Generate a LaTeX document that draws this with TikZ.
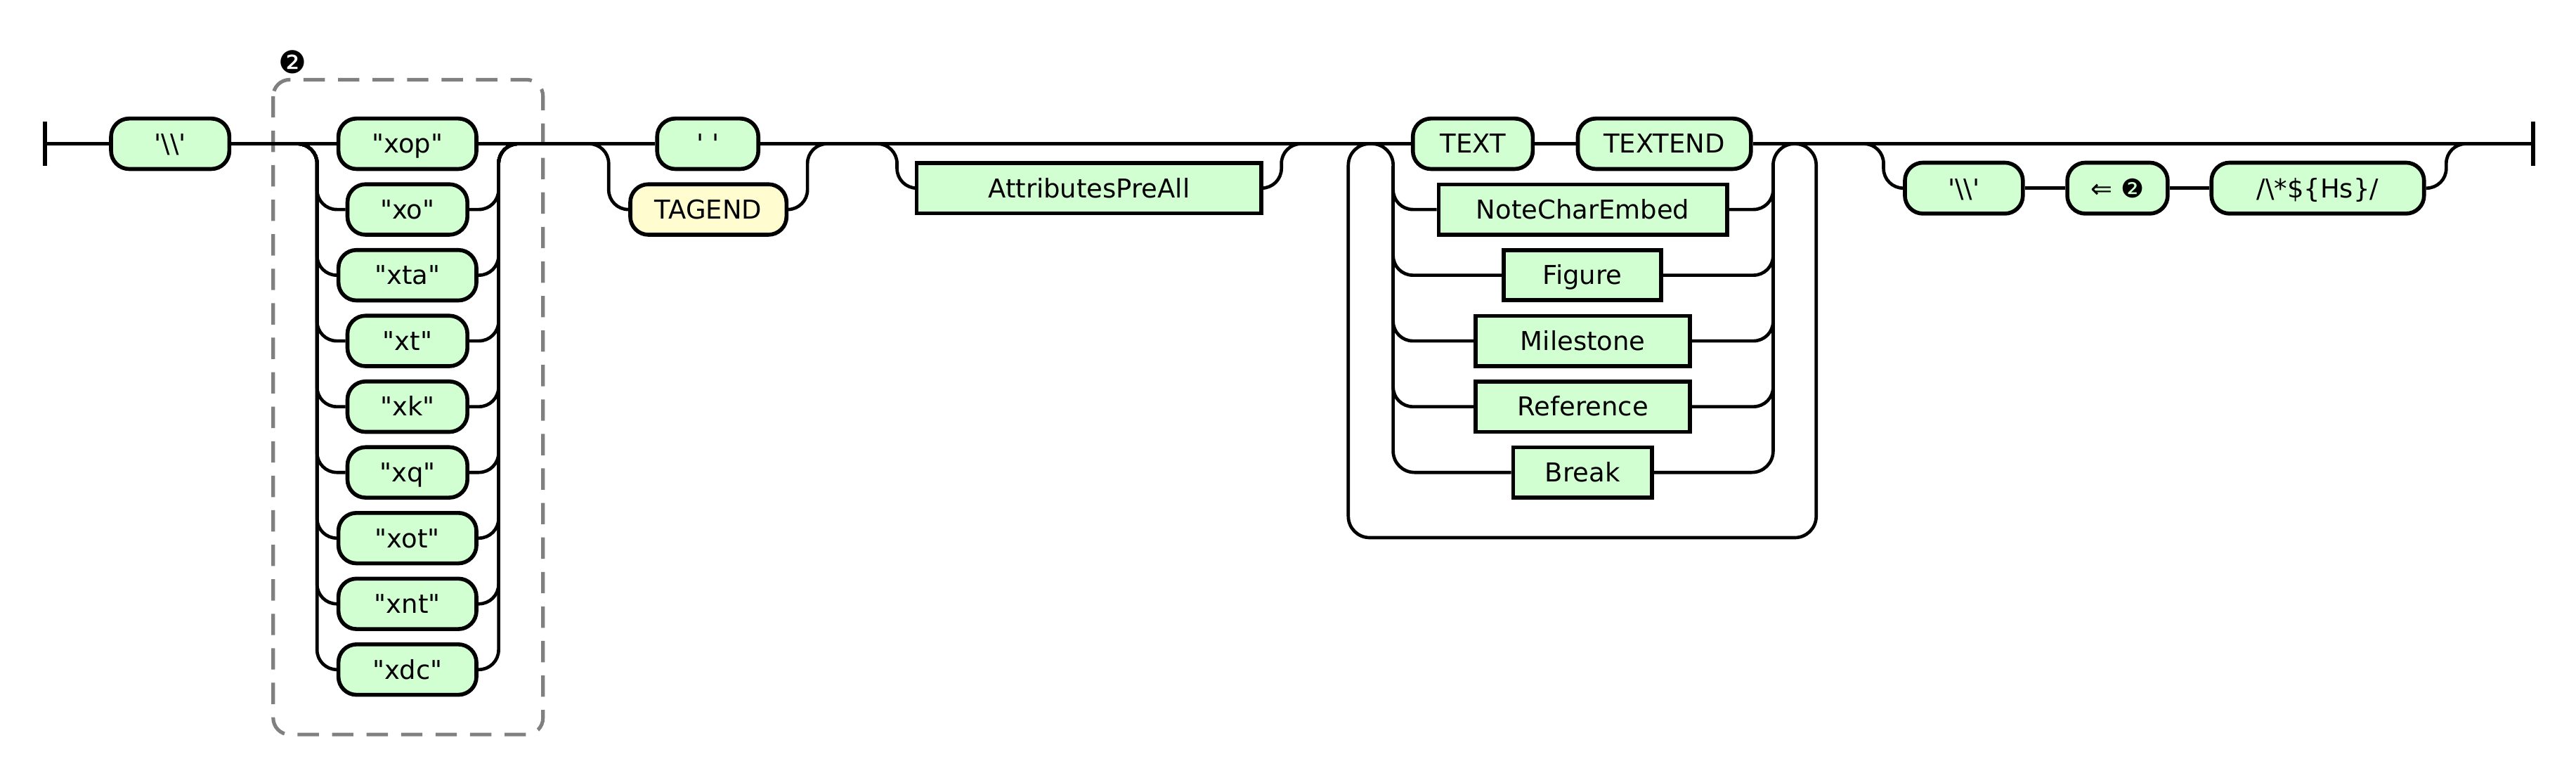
\documentclass[tikz,border=0pt]{standalone}
\usepackage{fontspec}
\setmainfont{DejaVu Sans}
\definecolor{termgreen}{RGB}{210,255,210}
\definecolor{tagyellow}{RGB}{255,252,208}
\definecolor{boxgray}{RGB}{128,128,128}
\newcommand{\dq}{\textquotedbl}
\newcommand{\sq}{\textquotesingle}

\begin{document}
\begin{tikzpicture}[x=1pt,y=-1pt,
    font=\fontsize{15.8}{18}\selectfont,
    term/.style={draw, line width=2.4pt, fill=termgreen, rounded corners=11pt,
      minimum height=30.7pt, inner sep=0pt, text height=11.4pt, text depth=0pt},
    nterm/.style={draw, line width=2.4pt, fill=termgreen,
      minimum height=30.5pt, inner sep=0pt, text height=11.4pt, text depth=0pt},
    wire/.style={line width=2pt},
    rail/.style={line width=2pt, rounded corners=12pt},
    bar/.style={line width=2.6pt},
    group/.style={draw=boxgray, line width=2.2pt, dash pattern=on 13pt off 8pt, rounded corners=10pt}]
    \useasboundingbox (0,0) rectangle (1568,473.06);

    % Group box
    \draw[group] (166.3,48.5) rectangle (330.5,447);
    \node[font=\fontsize{19}{22}\selectfont, inner sep=0pt] (grp) at (178,37.7) {❷};

    % Start
    \coordinate (start) at (27.3,87.5);
    \draw[bar] ([yshift=13.3pt]start) -- ([yshift=-13.3pt]start);
    \node[term, minimum width=72pt] (bs1) at (103.6,87.5) {\sq\textbackslash\textbackslash\sq};

    % First choice
    \node[term, minimum width=84pt] (xop) at (248,87.5) {\dq xop\dq};
    \node[term, minimum width=73pt] (xo) at (248,127.5) {\dq xo\dq};
    \node[term, minimum width=84pt] (xta) at (248,167.5) {\dq xta\dq};
    \node[term, minimum width=73pt] (xt) at (248,207.5) {\dq xt\dq};
    \node[term, minimum width=73pt] (xk) at (248,247.5) {\dq xk\dq};
    \node[term, minimum width=73pt] (xq) at (248,287.5) {\dq xq\dq};
    \node[term, minimum width=84pt] (xot) at (248,327.5) {\dq xot\dq};
    \node[term, minimum width=84pt] (xnt) at (248,367.5) {\dq xnt\dq};
    \node[term, minimum width=84pt] (xdc) at (248,407.5) {\dq xdc\dq};
    \coordinate (c1in) at (180,87.5);
    \coordinate (c1l) at (193,87.5);
    \coordinate (c1r) at (303.5,87.5);
    \coordinate (c1out) at (316.5,87.5);
        \draw[rail] (c1in) -- (c1l) |- (xo.west);
        \draw[rail] (c1in) -- (c1l) |- (xta.west);
        \draw[rail] (c1in) -- (c1l) |- (xt.west);
        \draw[rail] (c1in) -- (c1l) |- (xk.west);
        \draw[rail] (c1in) -- (c1l) |- (xq.west);
        \draw[rail] (c1in) -- (c1l) |- (xot.west);
        \draw[rail] (c1in) -- (c1l) |- (xnt.west);
        \draw[rail] (c1in) -- (c1l) |- (xdc.west);
        \draw[rail] (xo.east) -| (c1r) -- (c1out);
        \draw[rail] (xta.east) -| (c1r) -- (c1out);
        \draw[rail] (xt.east) -| (c1r) -- (c1out);
        \draw[rail] (xk.east) -| (c1r) -- (c1out);
        \draw[rail] (xq.east) -| (c1r) -- (c1out);
        \draw[rail] (xot.east) -| (c1r) -- (c1out);
        \draw[rail] (xnt.east) -| (c1r) -- (c1out);
        \draw[rail] (xdc.east) -| (c1r) -- (c1out);

    % Space or TAGEND
    \node[term, minimum width=61.6pt] (sp) at (430.8,87.5) {\sq\ \sq};
    \node[term, fill=tagyellow, minimum width=95.1pt] (tagend) at (431.2,127.5) {TAGEND};
    \coordinate (c2in) at (357.5,87.5);
    \coordinate (c2l) at (370.5,87.5);
    \coordinate (c2r) at (491.5,87.5);
    \coordinate (c2out) at (504.5,87.5);
        \draw[rail] (c2in) -- (c2l) |- (tagend.west);
        \draw[rail] (tagend.east) -| (c2r) -- (c2out);

    % Optional attributes
    \node[nterm, minimum width=209.8pt] (attr) at (662.9,114.5) {AttributesPreAll};
    \coordinate (c3in) at (533,87.5);
    \coordinate (c3l) at (546,87.5);
    \coordinate (c3r) at (780,87.5);
    \coordinate (c3out) at (792.5,87.5);
        \draw[rail] (c3in) -- (c3l) |- (attr.west);
        \draw[rail] (attr.east) -| (c3r) -- (c3out);

    % Content loop
    \node[term, minimum width=73pt] (txt) at (896.5,87.5) {TEXT};
    \node[term, minimum width=105.4pt] (txtend) at (1013.1,87.5) {TEXTEND};
    \node[nterm, minimum width=175.7pt] (nce) at (963.5,127.5) {NoteCharEmbed};
    \node[nterm, minimum width=96pt] (fig) at (963.2,167.5) {Figure};
    \node[nterm, minimum width=130.5pt] (mile) at (963.5,207.5) {Milestone};
    \node[nterm, minimum width=130.5pt] (ref) at (963.5,247.5) {Reference};
    \node[nterm, minimum width=84.5pt] (brk) at (963.3,287.5) {Break};
    \coordinate (l4top) at (848,87.5);
    \coordinate (lout) at (820.7,327.2);
    \coordinate (rout) at (1105.5,87.5);
    \coordinate (r4top) at (1079.3,87.5);
    \coordinate (l4) at (848,101);
    \coordinate (r4) at (1079.3,101);
        \draw[wire, rounded corners=13pt] (brk.west) -| (l4top) -| (lout) -| (rout) -| (brk.east -| r4top) -- (brk.east);
        \draw[rail] (l4) |- (nce.west);
        \draw[rail] (l4) |- (fig.west);
        \draw[rail] (l4) |- (mile.west);
        \draw[rail] (l4) |- (ref.west);
        \draw[rail] (nce.east) -| (r4);
        \draw[rail] (fig.east) -| (r4);
        \draw[rail] (mile.east) -| (r4);
        \draw[rail] (ref.east) -| (r4);

    % Optional trailer
    \node[term, minimum width=71.8pt, minimum height=31pt] (bs2) at (1195.4,114.5) {\sq\textbackslash\textbackslash\sq};
    \node[term, minimum width=61.1pt, minimum height=31pt] (ret) at (1288.9,114.5) {⇐ ❷};
    \node[term, minimum width=129.4pt, minimum height=31pt] (rx) at (1410.8,114.5) {/\textbackslash*\$\{Hs\}/};
    \coordinate (c5in) at (1134,87.5);
    \coordinate (c5l) at (1146.5,87.5);
    \coordinate (c5r) at (1489,87.5);
    \coordinate (c5out) at (1501.5,87.5);
        \draw[rail] (c5in) -- (c5l) |- (bs2.west);
        \draw[wire] (bs2) -- (ret);
        \draw[wire] (ret) -- (rx);
        \draw[rail] (rx.east) -| (c5r) -- (c5out);

    % Main line
    \coordinate (fin) at (1541.8,87.5);
    \draw[bar] ([yshift=13.3pt]fin) -- ([yshift=-13.3pt]fin);
    \draw[wire] (start) -- (bs1.west);
    \draw[wire] (bs1.east) -- (xop.west);
    \draw[wire] (xop.east) -- (sp.west);
    \draw[wire] (sp.east) -- (txt.west);
    \draw[wire] (txt.east) -- (txtend.west);
    \draw[wire] (txtend.east) -- (fin);
\end{tikzpicture}
\end{document}
